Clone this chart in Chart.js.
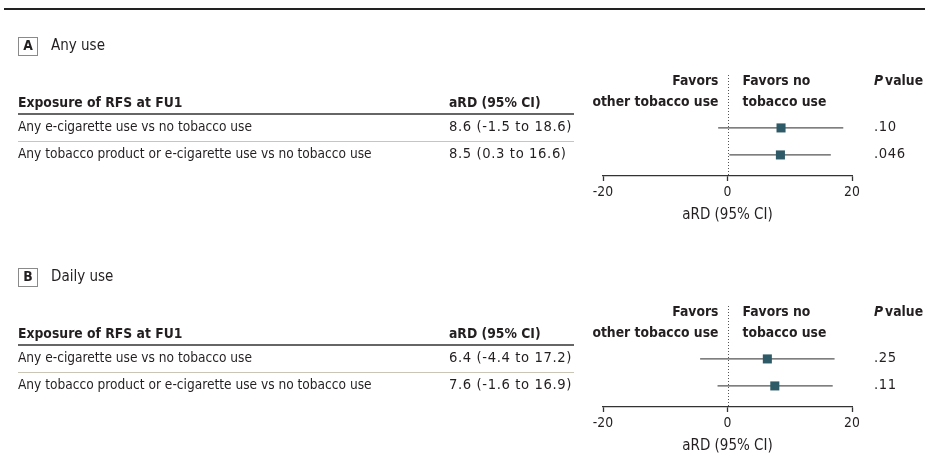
<!DOCTYPE html>
<html>
<head>
<meta charset="utf-8">
<script src="https://cdn.jsdelivr.net/npm/chart.js@4"></script>
<style>
  html, body { margin: 0; padding: 0; background: #fff; overflow: hidden; }
  canvas { display: block; }
</style>
</head>
<body>
<canvas id="panelA" width="925" height="231"></canvas>
<canvas id="panelB" width="925" height="231"></canvas>
<script>
const rowLabels = ["Any e-cigarette use vs no tobacco use", "Any tobacco product or e-cigarette use vs no tobacco use"];
const anyEst = [8.6, 8.5];
const anyLow = [-1.5, 0.3];
const anyHigh = [18.6, 16.6];
const anyP = [".10", ".046"];
const dailyEst = [6.4, 7.6];
const dailyLow = [-4.4, -1.6];
const dailyHigh = [17.2, 16.9];
const dailyP = [".25", ".11"];
const xTicks = [-20, 0, 20];
const colHeaders = ["Exposure of RFS at FU1", "aRD (95% CI)"];
const favorsLeft = ["Favors", "other tobacco use"];
const favorsRight = ["Favors no", "tobacco use"];

const FAMILY = '"DejaVu Sans Condensed", Roboto, sans-serif';
const NUM_FAMILY = '"DejaVu Sans", sans-serif';
const SIZE = 13.8;
const INK = "#231f20";

// draws the table part (labels, CI text, p values, rules) next to the plot
const tablePlugin = {
  id: "table",
  beforeDatasetsDraw(chart) {
    const { ctx, chartArea } = chart;
    const x0 = chart.scales.x.getPixelForValue(0);
    ctx.save();
    ctx.strokeStyle = "#555";
    ctx.lineWidth = 1;
    ctx.setLineDash([1, 2]);
    ctx.beginPath();
    ctx.moveTo(Math.round(x0) + 0.5, chartArea.top);
    ctx.lineTo(Math.round(x0) + 0.5, chartArea.bottom);
    ctx.stroke();
    ctx.restore();
  },
  afterDraw(chart, args, opts) {
    const { ctx } = chart;
    const ys = chart.scales.y;
    const x0 = chart.scales.x.getPixelForValue(0);
    const text = (s, x, y, o = {}) => {
      ctx.font = `${o.style || "normal"} ${o.weight || 400} ${o.size || SIZE}px ${o.family || FAMILY}`;
      ctx.letterSpacing = o.spacing || "0px";
      ctx.fillStyle = INK;
      ctx.textAlign = o.align || "left";
      ctx.textBaseline = "middle";
      ctx.fillText(s, x, y);
      const w = ctx.measureText(s).width;
      ctx.letterSpacing = "0px";
      return w;
    };
    const hline = (x1, x2, y, color, w) => {
      ctx.save();
      ctx.strokeStyle = color;
      ctx.lineWidth = w;
      ctx.beginPath();
      ctx.moveTo(x1, y);
      ctx.lineTo(x2, y);
      ctx.stroke();
      ctx.restore();
    };
    ctx.save();
    if (opts.topRule) hline(4, 925, 9, "#222", 2);

    // panel label box
    ctx.strokeStyle = "#8a8a8a";
    ctx.lineWidth = 1;
    ctx.strokeRect(18.5, 37.5, 19, 18);
    text(opts.letter, 28, 46.5, { weight: 700, align: "center" });
    text(opts.title, 51, 46, { size: 15 });

    // headers
    const bold = { weight: 700 };
    text(colHeaders[0], 18, 103, bold);
    text(colHeaders[1], 449, 103, bold);
    text(favorsLeft[0], x0 - 9, 81, { weight: 700, align: "right" });
    text(favorsLeft[1], x0 - 9, 102, { weight: 700, align: "right" });
    text(favorsRight[0], x0 + 15, 81, bold);
    text(favorsRight[1], x0 + 15, 102, bold);
    const pw = text("P", 874, 81, { weight: 700, style: "italic" });
    text("value", 874 + pw + 2, 81, bold);
    hline(18, 574, 114, "#333", 1.3);

    // rows
    const num = { family: NUM_FAMILY, size: 13.2, spacing: "0.6px" };
    const rowY = rowLabels.map((_, i) => ys.getPixelForValue(i + 1));
    rowLabels.forEach((label, i) => {
      const ci = `${opts.est[i].toFixed(1)} (${opts.low[i].toFixed(1)} to ${opts.high[i].toFixed(1)})`;
      text(label, 18, rowY[i], { size: 13.6 });
      text(ci, 449, rowY[i], num);
      text(opts.p[i], 874, rowY[i], num);
    });
    hline(18, 574, Math.round((rowY[0] + rowY[1]) / 2) + 0.5, "#cbc5b7", 1);
    ctx.restore();
  }
};

const makePanel = (id, letter, title, est, low, high, p, topRule) => {
  const ciSets = est.map((v, i) => ({
    type: "line",
    data: [{ x: low[i], y: i + 1 }, { x: high[i], y: i + 1 }],
    borderColor: "#555",
    borderWidth: 1.3,
    pointRadius: 0,
    order: 1,
  }));
  return new Chart(document.getElementById(id).getContext("2d"), {
    type: "scatter",
    data: {
      datasets: [
        {
          data: est.map((v, i) => ({ x: v, y: i + 1 })),
          pointStyle: "rect",
          pointRadius: 6.4,
          backgroundColor: "#2e5a68",
          borderWidth: 0,
          order: 0,
        },
        ...ciSets,
      ],
    },
    options: {
      responsive: false,
      animation: false,
      layout: { padding: { left: 603, right: 73, top: 75, bottom: 0 } },
      plugins: {
        legend: { display: false },
        tooltip: { enabled: false },
        table: { letter, title, est, low, high, p, topRule },
      },
      scales: {
        x: {
          type: "linear",
          min: xTicks[0],
          max: xTicks[xTicks.length - 1],
          afterBuildTicks: (s) => { s.ticks = xTicks.map((v) => ({ value: v })); },
          afterFit: (s) => { s.height = 55; },
          grid: { drawOnChartArea: false, tickLength: 5, tickColor: "#333", tickWidth: 1.3 },
          border: { color: "#333", width: 1.3 },
          ticks: { color: INK, padding: 3, maxRotation: 0, font: { family: FAMILY, size: SIZE, lineHeight: 1.2 } },
          title: {
            display: true,
            text: "aRD (95% CI)",
            color: INK,
            padding: { top: 0, bottom: 7 },
            font: { family: FAMILY, size: 15, lineHeight: 1.2 },
          },
        },
        y: { type: "linear", display: false, reverse: true, min: -0.96, max: 2.78 },
      },
    },
    plugins: [tablePlugin],
  });
};

makePanel("panelA", "A", "Any use", anyEst, anyLow, anyHigh, anyP, true);
makePanel("panelB", "B", "Daily use", dailyEst, dailyLow, dailyHigh, dailyP, false);
</script>
</body>
</html>
